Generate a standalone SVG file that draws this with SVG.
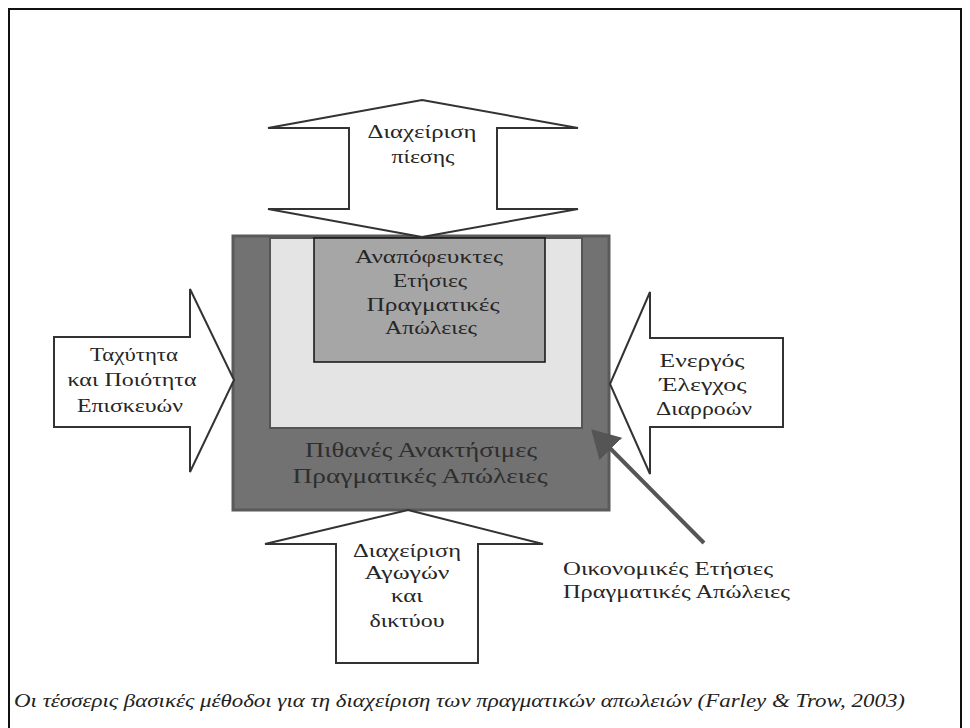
<svg xmlns="http://www.w3.org/2000/svg" width="970" height="728" viewBox="0 0 970 728">
<defs>
<style>
.arrow{fill:#ffffff;stroke:#333;stroke-width:2;stroke-linejoin:miter}
text{font-family:'Liberation Serif','Times New Roman','DejaVu Serif',serif}
.t{font-size:19px;fill:#262626;text-anchor:middle}
.tb{font-size:22px;fill:#2e2e2e;text-anchor:middle}
.cap{font-size:19px;font-style:italic;fill:#222}
</style>
<marker id="ah" markerWidth="8" markerHeight="8" refX="6" refY="4" orient="auto" markerUnits="strokeWidth">
<path d="M0,0 L7,4 L0,8 z" fill="#555"/>
</marker>
</defs>
<rect x="0" y="0" width="970" height="728" fill="#ffffff"/>
<rect id="frame" x="9" y="9" width="952" height="740" fill="none" stroke="#111" stroke-width="2"/>

<g id="core">
<rect x="233" y="236" width="376" height="274" fill="#727272" stroke="#5a5a5a" stroke-width="3"/>
<rect x="270" y="238" width="312" height="190" fill="#e4e4e4" stroke="#555" stroke-width="2"/>
<text class="tb" x="421" y="457" textLength="232" lengthAdjust="spacingAndGlyphs">Πιθανές Ανακτήσιμες</text>
<text class="tb" x="420" y="483" textLength="255" lengthAdjust="spacingAndGlyphs">Πραγματικές Απώλειες</text>
</g>

<g id="unavoidable">
<rect x="314" y="238" width="231" height="124" fill="#a6a6a6" stroke="#111" stroke-width="1.5"/>
<text class="t" x="429" y="263" textLength="148" lengthAdjust="spacingAndGlyphs">Αναπόφευκτες</text>
<text class="t" x="430" y="287" textLength="74" lengthAdjust="spacingAndGlyphs">Ετήσιες</text>
<text class="t" x="433" y="311" textLength="133" lengthAdjust="spacingAndGlyphs">Πραγματικές</text>
<text class="t" x="431" y="334" textLength="92" lengthAdjust="spacingAndGlyphs">Απώλειες</text>
</g>

<g id="pressure">
<path class="arrow" d="M422,100 L578,128 L497,128 L497,209 L578,209 L422,237 L268,209 L349,209 L349,128 L268,128 Z"/>
<text class="t" x="422" y="138" textLength="109" lengthAdjust="spacingAndGlyphs">Διαχείριση</text>
<text class="t" x="423" y="163" textLength="63" lengthAdjust="spacingAndGlyphs">πίεσης</text>
</g>

<g id="repairs">
<path class="arrow" d="M54,337 L190,337 L190,289 L234,380 L190,472 L190,427 L54,427 Z"/>
<text class="t" x="134" y="361" textLength="88" lengthAdjust="spacingAndGlyphs">Ταχύτητα</text>
<text class="t" x="132" y="386" textLength="129" lengthAdjust="spacingAndGlyphs">και Ποιότητα</text>
<text class="t" x="130" y="412" textLength="106" lengthAdjust="spacingAndGlyphs">Επισκευών</text>
</g>

<g id="leakage">
<path class="arrow" d="M783,338 L650,338 L650,292 L610,384 L650,474 L650,427 L783,427 Z"/>
<text class="t" x="702" y="367" textLength="85" lengthAdjust="spacingAndGlyphs">Ενεργός</text>
<text class="t" x="703" y="391" textLength="87" lengthAdjust="spacingAndGlyphs">Έλεγχος</text>
<text class="t" x="704" y="415" textLength="96" lengthAdjust="spacingAndGlyphs">Διαρροών</text>
</g>

<g id="network">
<path class="arrow" d="M408,510 L543,544 L478,544 L478,663 L336,663 L336,544 L265,544 Z"/>
<text class="t" x="407" y="557" textLength="108" lengthAdjust="spacingAndGlyphs">Διαχείριση</text>
<text class="t" x="407" y="579" textLength="85" lengthAdjust="spacingAndGlyphs">Αγωγών</text>
<text class="t" x="407" y="602" textLength="32" lengthAdjust="spacingAndGlyphs">και</text>
<text class="t" x="407" y="627" textLength="75" lengthAdjust="spacingAndGlyphs">δικτύου</text>
</g>

<g id="connectors">
<line x1="704" y1="543" x2="594" y2="432" stroke="#555" stroke-width="4" marker-end="url(#ah)"/>
</g>

<g id="economic">
<text class="t" x="563" y="575" style="text-anchor:start" textLength="210" lengthAdjust="spacingAndGlyphs">Οικονομικές Ετήσιες</text>
<text class="t" x="563" y="598" style="text-anchor:start" textLength="227" lengthAdjust="spacingAndGlyphs">Πραγματικές Απώλειες</text>
</g>

<text class="cap" x="14" y="707" textLength="891" lengthAdjust="spacingAndGlyphs">Οι τέσσερις βασικές μέθοδοι για τη διαχείριση των πραγματικών απωλειών (Farley &amp; Trow, 2003)</text>
</svg>
